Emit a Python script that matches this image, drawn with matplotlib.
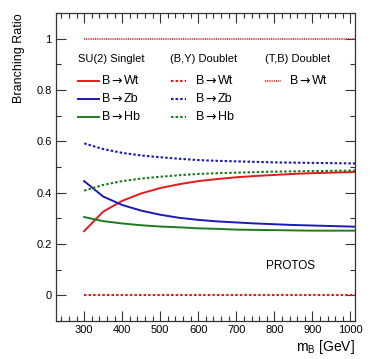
import matplotlib
matplotlib.use("Agg")
import matplotlib.pyplot as plt
from matplotlib.ticker import MultipleLocator
from matplotlib.lines import Line2D

plt.rcParams['font.family'] = ['Liberation Sans', 'DejaVu Sans']
plt.rcParams['mathtext.fontset'] = 'custom'
plt.rcParams['mathtext.rm'] = 'Liberation Sans'
plt.rcParams['mathtext.it'] = 'Liberation Sans'

mass = [300, 350, 400, 450, 500, 550, 600, 650, 700, 750, 800, 850, 900, 950, 1000, 1020]
singlet_wt = [0.25, 0.326, 0.368, 0.397, 0.418, 0.433, 0.445, 0.453, 0.46, 0.465, 0.469, 0.473, 0.476, 0.478, 0.48, 0.481]
singlet_zb = [0.445, 0.385, 0.352, 0.330, 0.314, 0.302, 0.294, 0.288, 0.284, 0.280, 0.277, 0.274, 0.272, 0.270, 0.268, 0.267]
singlet_hb = [0.305, 0.289, 0.280, 0.273, 0.268, 0.265, 0.261, 0.259, 0.256, 0.255, 0.254, 0.253, 0.252, 0.252, 0.252, 0.252]
by_wt = [0.0] * 16
by_zb = [0.592, 0.570, 0.555, 0.545, 0.538, 0.532, 0.527, 0.524, 0.522, 0.520, 0.518, 0.517, 0.516, 0.515, 0.514, 0.514]
by_hb = [0.408, 0.430, 0.445, 0.455, 0.462, 0.468, 0.473, 0.476, 0.478, 0.480, 0.482, 0.483, 0.484, 0.485, 0.486, 0.486]
tb_wt = [1.0] * 16

headers = ['SU(2) Singlet', '(B,Y) Doublet', '(T,B) Doublet']
decays = ['Wt', 'Zb', 'Hb']

RED = '#e31a1c'
BLUE = '#1a1ab4'
GREEN = '#1f7a1f'

fig = plt.figure(figsize=(3.74, 3.59), dpi=100)
ax = fig.add_axes([56/374, 1 - 321/359, (355-56)/374, (321-13)/359])

dot = (0, (1.2, 1.0))
fine = (0, (0.6, 0.5))
ax.plot(mass, singlet_wt, color=RED, lw=1.4)
ax.plot(mass, singlet_zb, color=BLUE, lw=1.4)
ax.plot(mass, singlet_hb, color=GREEN, lw=1.4)
ax.plot(mass, by_wt, color=RED, lw=1.5, ls=dot)
ax.plot(mass, by_zb, color=BLUE, lw=1.5, ls=dot)
ax.plot(mass, by_hb, color=GREEN, lw=1.5, ls=dot)
ax.plot(mass, tb_wt, color=RED, lw=1.2, ls=fine)

ax.set_xlim(226, 1012)
ax.set_ylim(-0.1, 1.1)
ax.xaxis.set_minor_locator(MultipleLocator(20))
ax.yaxis.set_minor_locator(MultipleLocator(0.1))
ax.set_yticks([0, 0.2, 0.4, 0.6, 0.8, 1.0])
ax.set_yticklabels(['0', '0.2', '0.4', '0.6', '0.8', '1'])
ax.set_xticks([300, 400, 500, 600, 700, 800, 900, 1000])
ax.tick_params(which='both', direction='in', top=True, right=True, labelsize=8, color='#333333', width=0.8)
ax.tick_params(which='major', length=7, pad=3)
ax.tick_params(which='minor', length=3.5)
for s in ax.spines.values():
    s.set_color('#333333')
    s.set_linewidth(0.9)

ax.set_ylabel('Branching Ratio', fontsize=9, loc='top', labelpad=8)
ax.set_xlabel(r'm$_{\mathrm{B}}$ [GeV]', fontsize=10, loc='right', labelpad=2)

for x0, t in zip([78, 170, 265], headers):
    fig.text(x0/374, 1 - 59.5/359, t, fontsize=8, va='center', ha='left')

def entry(x0, yy, word):
    y = 1 - yy/359
    fig.text(x0/374, y, 'B', fontsize=9, va='center', ha='left')
    fig.text((x0 + 9)/374, y, '\u2192', fontsize=9, va='center', ha='left', family='DejaVu Sans')
    fig.text((x0 + 22)/374, y, word, fontsize=9, va='center', ha='left')

row_y = [80.7, 99, 116.7]
cols = [RED, BLUE, GREEN]
for yy, c, w in zip(row_y, cols, decays):
    fig.add_artist(Line2D([78/374, 99/374], [1 - yy/359]*2, color=c, lw=1.4))
    entry(102, yy, w)
    fig.add_artist(Line2D([171/374, 186/374], [1 - yy/359]*2, color=c, lw=1.5, ls=dot))
    entry(196, yy, w)
fig.add_artist(Line2D([265/374, 281/374], [1 - 80.7/359]*2, color=RED, lw=1.2, ls=fine))
entry(290, 80.7, decays[0])

fig.text(266/374, 1 - 265.7/359, 'PROTOS', fontsize=8.5, va='center', ha='left')

fig.savefig('out.png', dpi=100)
